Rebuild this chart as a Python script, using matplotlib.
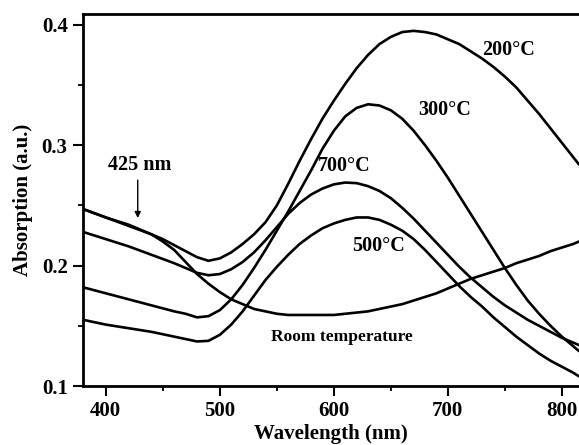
import matplotlib
matplotlib.use("Agg")
import matplotlib.pyplot as plt

wavelength = [380, 400, 420, 440, 450, 460, 470, 480, 490, 500, 510, 520, 530, 540, 550,
              560, 570, 580, 590, 600, 610, 620, 630, 640, 650, 660, 670, 680, 690, 700,
              710, 720, 730, 740, 750, 760, 770, 780, 790, 800, 810, 815]

abs_200 = [0.247, 0.240, 0.233, 0.226, 0.222, 0.217, 0.212, 0.207, 0.204, 0.206, 0.211, 0.218,
           0.226, 0.236, 0.250, 0.268, 0.287, 0.305, 0.322, 0.337, 0.351, 0.364, 0.375, 0.384,
           0.390, 0.394, 0.395, 0.394, 0.392, 0.388, 0.384, 0.378, 0.372, 0.365, 0.357, 0.348,
           0.337, 0.326, 0.314, 0.302, 0.290, 0.284]

abs_300 = [0.182, 0.177, 0.172, 0.167, 0.1645, 0.162, 0.160, 0.157, 0.158, 0.163, 0.172, 0.184,
           0.198, 0.213, 0.229, 0.245, 0.262, 0.279, 0.297, 0.312, 0.324, 0.331, 0.334, 0.333,
           0.329, 0.322, 0.312, 0.300, 0.287, 0.273, 0.258, 0.243, 0.228, 0.213, 0.198, 0.184,
           0.171, 0.160, 0.150, 0.141, 0.133, 0.129]

abs_700 = [0.228, 0.222, 0.216, 0.209, 0.2055, 0.202, 0.198, 0.194, 0.192, 0.193, 0.197, 0.203,
           0.211, 0.221, 0.232, 0.243, 0.252, 0.259, 0.264, 0.2675, 0.269, 0.2685, 0.266, 0.262,
           0.256, 0.248, 0.239, 0.229, 0.219, 0.209, 0.199, 0.190, 0.182, 0.174, 0.167, 0.161,
           0.155, 0.150, 0.145, 0.140, 0.136, 0.134]

abs_500 = [0.155, 0.151, 0.148, 0.145, 0.143, 0.141, 0.139, 0.137, 0.1375, 0.1425, 0.151, 0.162,
           0.175, 0.188, 0.199, 0.209, 0.218, 0.225, 0.231, 0.235, 0.238, 0.240, 0.240, 0.238,
           0.234, 0.229, 0.222, 0.213, 0.203, 0.193, 0.183, 0.174, 0.166, 0.157, 0.149, 0.141,
           0.134, 0.127, 0.121, 0.116, 0.111, 0.108]

abs_room = [0.247, 0.240, 0.234, 0.226, 0.220, 0.213, 0.203, 0.193, 0.185, 0.178, 0.172, 0.168,
            0.164, 0.162, 0.160, 0.159, 0.159, 0.159, 0.159, 0.159, 0.160, 0.161, 0.162, 0.164,
            0.166, 0.168, 0.171, 0.174, 0.177, 0.181, 0.185, 0.189, 0.192, 0.195, 0.198, 0.202,
            0.205, 0.208, 0.212, 0.215, 0.218, 0.220]

series = [abs_200, abs_300, abs_700, abs_500, abs_room]

labels = ["200°C", "300°C", "700°C", "500°C", "Room temperature"]
label_pos = [(730, 0.379), (674, 0.329), (586, 0.283), (616, 0.2164), (545, 0.1407)]
label_size = [14.5, 14.5, 14.5, 14.5, 12.5]

xticks = [400, 500, 600, 700, 800]
yticks = [0.1, 0.2, 0.3, 0.4]

FONT = "Liberation Serif"

fig = plt.figure(figsize=(5.79, 4.45), dpi=100)
ax = fig.add_axes([83 / 579, 1 - 386 / 445, 1 - 83 / 579, (386 - 14) / 445])

for ys in series:
    ax.plot(wavelength, ys, color="black", lw=1.9, solid_capstyle="round", solid_joinstyle="round")

ax.set_xlim(380, 815)
ax.set_ylim(0.1, 0.409)

ax.set_xticks(xticks)
ax.set_xticklabels([str(t) for t in xticks])
ax.set_yticks(yticks)
ax.set_yticklabels([f"{t:.1f}" for t in yticks])
ax.set_xticks([450, 550, 650, 750], minor=True)
ax.set_yticks([0.15, 0.25, 0.35], minor=True)

ax.tick_params(which="major", direction="out", length=7, width=1.5, pad=4)
ax.tick_params(which="minor", direction="out", length=3.5, width=1.3)
ax.tick_params(top=False, right=False)
for lab in ax.get_xticklabels() + ax.get_yticklabels():
    lab.set_fontfamily(FONT)
    lab.set_fontweight("bold")
    lab.set_fontsize(15)

for side in ["left", "bottom", "top"]:
    ax.spines[side].set_linewidth(2.0)
ax.spines["right"].set_visible(False)

ax.set_xlabel("Wavelength (nm)", fontfamily=FONT, fontweight="bold", fontsize=15, labelpad=2)
ax.set_ylabel("Absorption (a.u.)", fontfamily=FONT, fontweight="bold", fontsize=15)
ax.yaxis.set_label_coords(-0.10, 0.5)

for txt, (x, y), fs in zip(labels, label_pos, label_size):
    ax.text(x, y, txt, fontfamily=FONT, fontweight="bold", fontsize=fs, ha="left", va="center")

ax.text(402, 0.2837, "425 nm", fontfamily=FONT, fontweight="bold", fontsize=14.5, ha="left", va="center")
ax.annotate("", xy=(428, 0.2395), xytext=(428, 0.271),
            arrowprops=dict(arrowstyle="-|>", color="black", lw=1.0, mutation_scale=9,
                            shrinkA=0, shrinkB=0))

fig.savefig("out.png", dpi=100)
